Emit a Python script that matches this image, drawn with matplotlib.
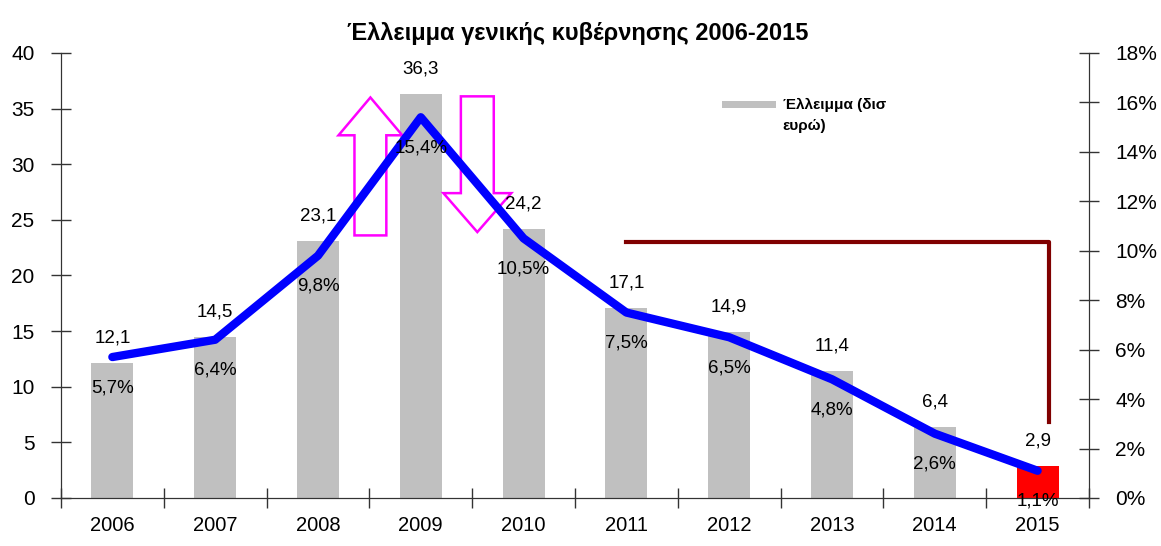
import matplotlib.pyplot as plt
from matplotlib.patches import Polygon, Rectangle
from matplotlib.legend_handler import HandlerPatch
from matplotlib.ticker import FuncFormatter

plt.rcParams['font.family'] = ['Liberation Sans', 'DejaVu Sans']

years = ["2006", "2007", "2008", "2009", "2010", "2011", "2012", "2013", "2014", "2015"]
deficit_bn = [12.1, 14.5, 23.1, 36.3, 24.2, 17.1, 14.9, 11.4, 6.4, 2.9]
deficit_pct = [5.7, 6.4, 9.8, 15.4, 10.5, 7.5, 6.5, 4.8, 2.6, 1.1]
legend_label = "Έλλειμμα (δισ\nευρώ)"
title = "Έλλειμμα γενικής κυβέρνησης 2006-2015"


def fmt_gr(v, pct=False):
    s = f"{v:.1f}".replace(".", ",")
    return s + "%" if pct else s


def arrow_poly(xc, y_tail, y_tip, y_base, shaft_hw, head_hw):
    # simple block arrow outline (x in category units, y in left-axis units)
    return [(xc - shaft_hw, y_tail), (xc + shaft_hw, y_tail), (xc + shaft_hw, y_base),
            (xc + head_hw, y_base), (xc, y_tip), (xc - head_hw, y_base), (xc - shaft_hw, y_base)]


def top_line_patch(legend, orig_handle, xdescent, ydescent, width, height, fontsize):
    # put the legend swatch next to the first line of a two-line label
    return Rectangle((-xdescent, -ydescent + 8), width, height)


fig = plt.figure(figsize=(11.61, 5.46), dpi=100)
ax = fig.add_axes([0.0525, 0.088, 0.8855, 0.815])
ax2 = ax.twinx()

x = list(range(len(years)))
colors = ["#C0C0C0"] * (len(years) - 1) + ["#FF0000"]
bars = ax.bar(x, deficit_bn, width=0.41, color=colors, label=legend_label, zorder=2)

ax.set_xlim(-0.5, len(years) - 0.5)
ax.set_ylim(0, 40)
ax.set_yticks(range(0, 41, 5))
ax.set_xticks(x)
ax.set_xticklabels(years)
ax.set_xticks([i + 0.5 for i in range(-1, len(years))], minor=True)
ax.tick_params(axis='x', which='major', length=0, pad=13, labelsize=14.5)
ax.tick_params(axis='x', which='minor', direction='inout', length=14, width=1, color='#333333')
ax.tick_params(axis='y', direction='inout', length=14, width=1, color='#333333', labelsize=15, pad=12)
for s in ['top']:
    ax.spines[s].set_visible(False)
    ax2.spines[s].set_visible(False)
for s in ['left', 'bottom', 'right']:
    ax.spines[s].set_color('#333333')
    ax2.spines[s].set_color('#333333')

ax2.set_ylim(0, 18)
ax2.set_yticks(range(0, 19, 2))
ax2.yaxis.set_major_formatter(FuncFormatter(lambda v, p: f"{int(v)}%"))
ax2.tick_params(axis='y', direction='inout', length=14, width=1, color='#333333', labelsize=15, pad=12)

ax2.plot(x, deficit_pct, color='#0000FF', lw=6, solid_capstyle='round', solid_joinstyle='round', zorder=3)

# value labels
for xi, v in zip(x, deficit_bn):
    yy = v * 18 / 40
    ax2.annotate(fmt_gr(v), (xi, yy), xytext=(0, 18), textcoords='offset points',
                 ha='center', va='center', fontsize=13.5, zorder=5)
for xi, p in zip(x, deficit_pct):
    ax2.annotate(fmt_gr(p, pct=True), (xi, p), xytext=(0, -22), textcoords='offset points',
                 ha='center', va='center', fontsize=13.5, zorder=5)

# pink arrows around 2009 peak
up = arrow_poly(2.51, 23.6, 36.0, 32.6, 0.155, 0.31)
down = arrow_poly(3.55, 36.1, 23.9, 27.4, 0.16, 0.33)
for pts in (up, down):
    ax.add_patch(Polygon(pts, closed=True, fill=False, edgecolor='#FF00FF', lw=1.8, zorder=3))

# dark red bracket
ax.plot([5.0, 9.11, 9.11], [23.0, 23.0, 6.8], color='#800000', lw=3, zorder=3)

leg = ax.legend(handles=[bars[0]], labels=[legend_label], loc='upper left', bbox_to_anchor=(0.63, 0.93),
                frameon=False, prop={'size': 11, 'weight': 'bold'}, handlelength=3.5, handleheight=0.4,
                handletextpad=0.45, handler_map={Rectangle: HandlerPatch(patch_func=top_line_patch)})
leg.get_texts()[0].set_linespacing(1.65)

fig.suptitle(title, fontsize=17, fontweight='bold', x=0.498, y=0.96)

fig.savefig("out.png", dpi=100)
